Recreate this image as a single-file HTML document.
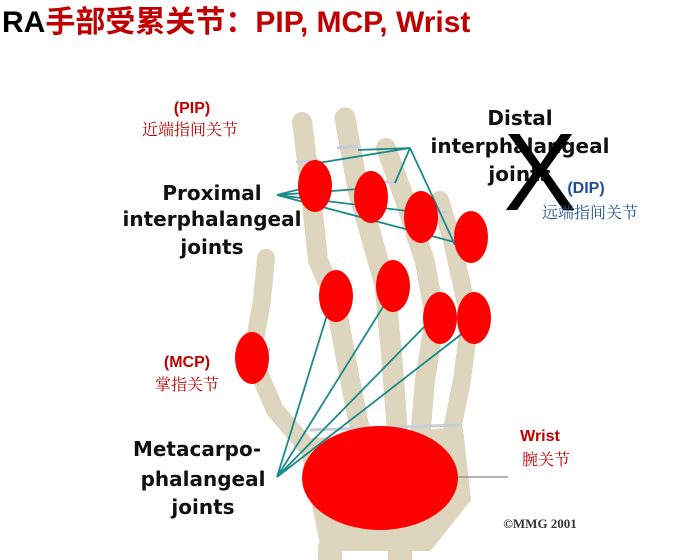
<!DOCTYPE html>
<html><head><meta charset="utf-8"><style>
body{margin:0;background:#fff;}
svg{display:block}
</style></head><body>
<svg width="677" height="560" viewBox="0 0 677 560" xmlns="http://www.w3.org/2000/svg">
<rect width="677" height="560" fill="#fff"/>
<text x="2" y="32" font-family="Liberation Sans, Noto Sans CJK SC, sans-serif" font-weight="bold" font-size="30"><tspan fill="#000">RA</tspan><tspan fill="#c00000">手部受累关节：PIP, MCP, Wrist</tspan></text>
<g stroke="#ddd5bd" stroke-linecap="round" fill="none">
 <path d="M300 440 L462 428 L470 500 L430 550 L322 550 Z" fill="#ddd5bd" stroke-width="2"/>
 <polyline points="302,122 310,185 318,260 335,300 350,380 362,440" stroke-width="20"/>
 <polyline points="345,118 358,190 385,285 392,360 398,440" stroke-width="21"/>
 <polyline points="386,148 405,200 425,262 435,318 425,380 420,440" stroke-width="20"/>
 <polyline points="440,200 452,240 465,300 470,318 462,380 450,440" stroke-width="18"/>
 <polyline points="266,258 262,300 252,357 275,410 305,445" stroke-width="18"/>
 <polyline points="330,548 330,560" stroke-width="24"/>
 <polyline points="400,545 400,560" stroke-width="24"/>
</g>
<g stroke="#c6cdd8" stroke-width="3" fill="none">
 <path d="M296 162 L318 160"/><path d="M337 148 L358 146"/><path d="M380 182 L398 182"/><path d="M430 212 L447 212"/>
 <path d="M250 352 L270 350"/><path d="M310 430 L460 425"/>
</g>
<g stroke="#1a8a8a" stroke-width="1.8" fill="none">
 <path d="M277 195 L316 185 M277 195 L373 188 M277 195 L424 213 M277 195 L458 243"/>
 <path d="M410 148 L318 163 M410 148 L358 150 M410 148 L395 183 M410 148 L455 245"/>
 <path d="M277 477 L327 315 M277 477 L386 302 M277 477 L426 325 M277 477 L463 333"/>
</g>
<line x1="455" y1="477" x2="508" y2="477" stroke="#999" stroke-width="1.5"/>
<g fill="#ff0000">
 <ellipse cx="315" cy="186" rx="17" ry="26"/>
 <ellipse cx="371" cy="197" rx="17" ry="26"/>
 <ellipse cx="421" cy="217" rx="17" ry="26"/>
 <ellipse cx="471" cy="237" rx="17" ry="26"/>
 <ellipse cx="336" cy="296" rx="17" ry="26"/>
 <ellipse cx="393" cy="286" rx="17" ry="26"/>
 <ellipse cx="440" cy="318" rx="17" ry="26"/>
 <ellipse cx="474" cy="318" rx="17" ry="26"/>
 <ellipse cx="252" cy="358" rx="17" ry="26"/>
 <ellipse cx="380" cy="478" rx="78" ry="52"/>
</g>
<g font-family="DejaVu Sans, Liberation Sans, sans-serif" font-weight="bold" font-size="20" fill="#111" text-anchor="middle">
 <text x="212" y="200">Proximal</text>
 <text x="212" y="226">interphalangeal</text>
 <text x="212" y="254">joints</text>
 <text x="520" y="125">Distal</text>
 <text x="520" y="153">interphalangeal</text>
 <text x="520" y="181">joints</text>
 <text x="197" y="456">Metacarpo-</text>
 <text x="203" y="486">phalangeal</text>
 <text x="203" y="514">joints</text>
</g>
<text x="540" y="210" font-family="Liberation Sans, sans-serif" font-size="110" text-anchor="middle" fill="#000">X</text>
<g font-family="Liberation Sans, sans-serif" font-weight="bold" font-size="16" text-anchor="middle">
 <text x="192" y="113" fill="#c00000">(PIP)</text>
 <text x="586" y="193" fill="#1f4e99">(DIP)</text>
 <text x="187" y="367" fill="#c00000">(MCP)</text>
 <text x="540" y="441" fill="#c00000">Wrist</text>
</g>
<g font-family="Noto Serif CJK SC, serif" font-size="16" text-anchor="middle">
 <text x="190" y="135" fill="#c00000">近端指间关节</text>
 <text x="590" y="218" fill="#1f4e99">远端指间关节</text>
 <text x="187" y="390" fill="#c00000">掌指关节</text>
 <text x="546" y="465" fill="#c00000">腕关节</text>
</g>
<text x="540" y="528" font-family="Liberation Serif, serif" font-weight="bold" font-size="13" text-anchor="middle" fill="#333">©MMG 2001</text>
</svg>
</body></html>
